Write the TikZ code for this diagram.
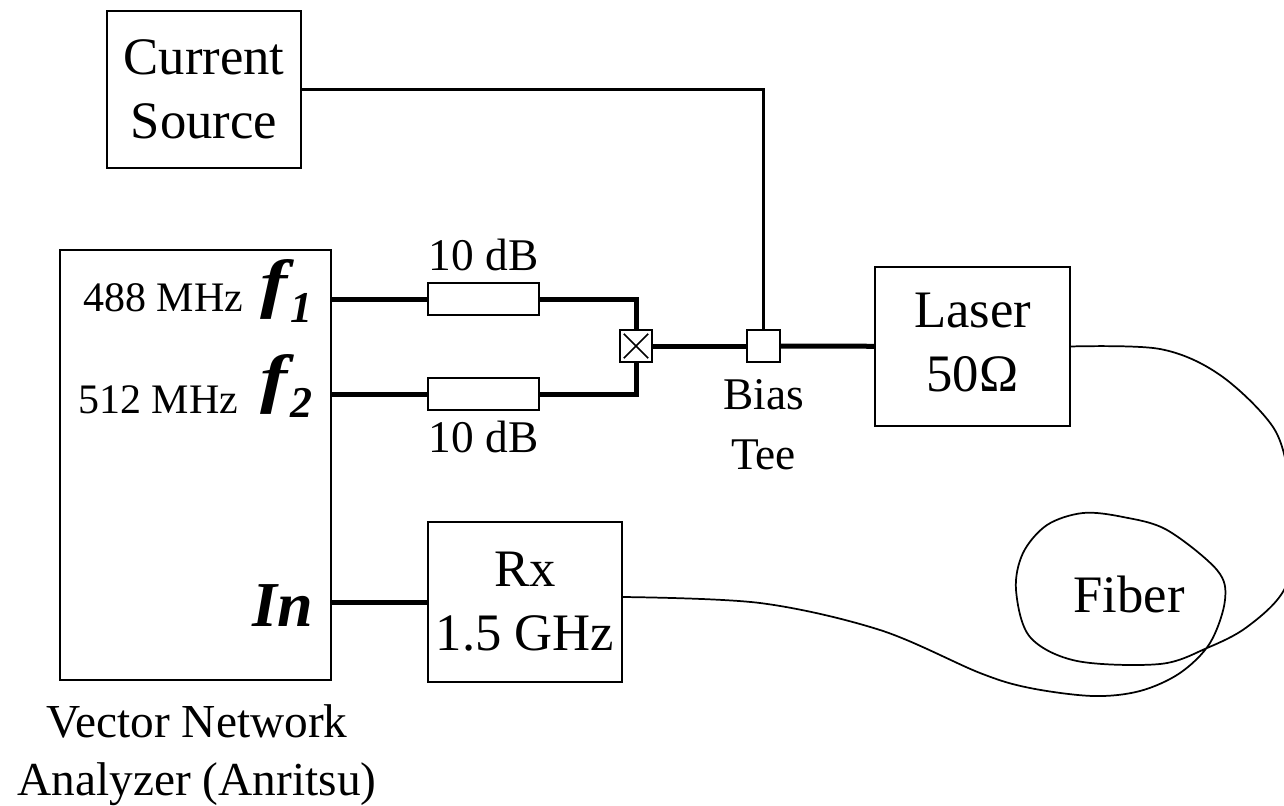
\documentclass[tikz,border=0pt]{standalone}
\usepackage{fontspec}
\setmainfont{Liberation Serif}
\usetikzlibrary{shapes.misc}
\newcommand{\bigtext}{\fontsize{39.5}{48}\selectfont}
\newcommand{\midtext}{\fontsize{34}{45}\selectfont}
\newcommand{\smalltext}{\fontsize{31.5}{46}\selectfont}
\newcommand{\nametext}{\fontsize{35.5}{43.5}\selectfont}
\newcommand{\freqlabel}[1]{{\fontsize{49}{49}\selectfont\bfseries\itshape \scalebox{1.25}[1]{f}\kern2.5pt\lower12.75pt\hbox{\fontsize{33}{33}\selectfont #1}}}
\tikzstyle{box} = [rectangle, draw=black, line width=1.6pt, inner sep=0pt, outer sep=0pt, align=center, font=\bigtext]
\tikzstyle{small} = [box, minimum width=32.5*0.75pt, minimum height=32.5*0.75pt]
\tikzstyle{atten} = [box, minimum width=83pt, minimum height=24pt]
\tikzstyle{wire} = [line width=1.55pt]
\tikzstyle{rfwire} = [line width=3.75pt]
\tikzstyle{fiber} = [line width=1.3pt]
\tikzstyle{label} = [inner sep=0pt, outer sep=0pt, align=center]

\begin{document}
\begin{tikzpicture}[x=0.75pt, y=-0.75pt]

\path [use as bounding box, clip] (0,0) rectangle (1284,806);

\node (source) [box, minimum width=145.5pt, minimum height=118pt] at (204,89.5) {Current\\Source};
\node (vna) [box, minimum width=203pt, minimum height=322.5pt] at (195.5,465) {};
\node (att1) [atten] at (483.5,299) {};
\node (att2) [atten] at (483.5,394) {};
\node (mix) [small] at (636,346) {};
\node (cross) [cross out, draw=black, line width=1.3pt, inner sep=0pt, minimum size=17pt] at (mix) {};
\node (tee) [small] at (763.5,346) {};
\node (laser) [box, text depth=7pt, minimum width=146pt, minimum height=119pt] at (972.5,346.5) {Laser\\50Ω};
\node (rx) [box, minimum width=145.5pt, minimum height=120pt] at (525,602) {Rx\\1.5 GHz};

\node (att1label) [label, font=\midtext, anchor=base] at (483.5,270) {10 dB};
\node (att2label) [label, font=\midtext, anchor=base] at (483.5,452) {10 dB};
\node (teelabel) [label, font=\midtext] at (763.5,425) {Bias\\Tee};
\node (fiberlabel) [label, font=\bigtext, anchor=base] at (1129,612) {Fiber};
\node (vnalabel) [label, font=\nametext, anchor=north] at (197,705) {Vector Network\\Analyzer (Anritsu)};

\node (lab1) [label, font=\smalltext, anchor=base east] at (243,311.5) {488 MHz};
\node (lab2) [label, font=\smalltext, anchor=base east] at (238,413) {512 MHz};
\node (f1) [label, anchor=base west] at (260,305) {\freqlabel{1}};
\node (f2) [label, anchor=base west] at (260,400) {\freqlabel{2}};
\node (in) [label, font=\fontsize{48}{48}\selectfont\bfseries\itshape, anchor=base east] at (313,626) {In};

\coordinate (port1) at (vna.east |- att1);
\coordinate (port2) at (vna.east |- att2);
\coordinate (portin) at (vna.east |- rx);
\coordinate (rxout) at (622,597);

\draw [rfwire] (port1) -- (att1);
\draw [rfwire] (port2) -- (att2);
\draw [rfwire, line join=miter] (att1) -| (mix);
\draw [rfwire, line join=miter] (att2) -| (mix);
\draw [rfwire] (mix) -- (tee);
\draw [rfwire] (tee) -- (laser);
\draw [rfwire] (portin) -- (rx);
\draw [wire] (source) -| (tee);

\draw [fiber] plot [smooth, tension=0.55] coordinates {(laser.east) (1160,349) (1220,375) (1273,427) (1290,480) (1300,530) (1284,590) (1247,627) (1207,648) (1160,664) (1077,661) (1030,637) (1016,590) (1023,553) (1047,525) (1083,513) (1123,517) (1167,530) (1217,570) (1225,600) (1210,643) (1180,673) (1140,691) (1093,696) (1030,688) (980,673) (880,630) (760,603) (rxout)};

\end{tikzpicture}
\end{document}
